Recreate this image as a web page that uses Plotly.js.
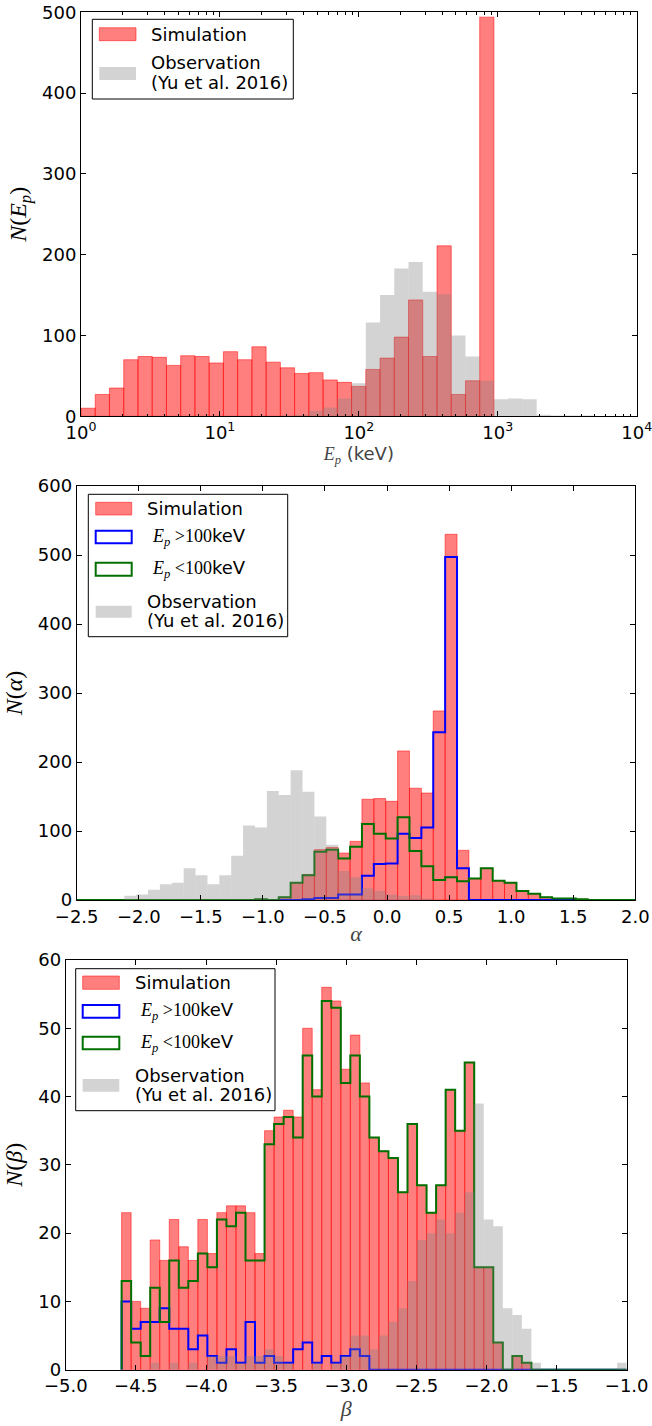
<!DOCTYPE html>
<html><head><meta charset="utf-8">
<script src="https://cdn.plot.ly/plotly-3.0.1.min.js"></script>
<style>html,body{margin:0;padding:0;background:#fff}#chart{width:652px;height:1426px}</style>
</head><body><div id="chart"></div>
<script>
// ---------- Panel 1: N(Ep), log-spaced bins (edge k = 10^(k*epLogWidth) keV) ----------
const epLogWidth = 0.1025;
const epSimulation = [10,27,35,70,74,73,63,75,74,66,80,70,86,67,60,53,54,45,42,37,58,72,98,144,74,211,27,44,494];
const epObservation = [0,0,0,0,0,0,0,0,0,0,0,0,0,0,1,2,7,11,22,41,116,150,183,191,154,151,100,74,44,21,22,21,2,1,1,1];
const epTickVals = [1,10,100,1000,10000];
const epTickText = ['10<sup>0</sup>','10<sup>1</sup>','10<sup>2</sup>','10<sup>3</sup>','10<sup>4</sup>'];

// ---------- Panel 2: N(alpha), 47 bins from -2.5 to 2.0 ----------
const alphaMin = -2.5, alphaMax = 2.0;
const alphaSimulation = [0,0,0,0,0,0,0,0,0,0,0,0,0,0,0,1,0,4,25,37,73,76,68,85,146,147,143,216,162,155,274,530,72,31,46,28,25,13,9,4,2,2,1,0,0,0,0];
const alphaHighEp = [0,0,0,0,0,0,0,0,0,0,0,0,0,0,0,0,0,0,0,1,3,3,8,8,35,52,53,96,90,105,243,497,46,0,0,0,0,0,0,0,0,0,0,0,0,0,0];
const alphaLowEp = [0,0,0,0,0,0,0,0,0,0,0,0,0,0,0,1,0,4,25,36,70,73,60,77,110,96,89,120,71,49,29,33,27,31,46,28,25,13,9,4,2,2,1,0,0,0,0];
const alphaObservation = [0,0,0,0,6,8,15,23,25,46,36,23,36,64,108,105,158,152,188,157,121,80,42,33,17,13,8,6,7,2,0,0,0,0,0,0,0,0,0,0,0,0,0,0,0,0,0];

// ---------- Panel 3: N(beta), 53 bins from -4.602 to -1.0 ----------
const betaMin = -4.602, betaMax = -1.0;
const betaSimulation = [23,10,9,19,16,22,18,16,22,17,23,24,24,23,17,35,37,38,37,50,41,56,54,44,49,42,34,32,31,26,36,27,23,27,41,35,45,15,15,4,0,2,1,0,0,0,0,0,0,0,0,0,0];
const betaHighEp = [10,6,7,7,9,6,6,3,5,2,1,3,1,7,1,2,1,1,3,4,1,2,1,2,3,2,0,0,0,0,0,0,0,0,0,0,0,0,0,0,0,0,0,0,0,0,0,0,0,0,0,0,0];
const betaLowEp = [13,4,2,12,7,16,12,13,17,15,22,21,23,16,16,33,36,37,34,46,40,54,53,42,46,40,34,32,31,26,36,27,23,27,41,35,45,15,15,4,0,2,1,0,0,0,0,0,0,0,0,0,0];
const betaObservation = [0,0,0,1,0,1,0,1,0,2,2,2,1,2,2,3,2,1,0,0,1,0,1,2,5,5,3,5,7,9,13,19,20,22,20,23,26,39,22,21,9,8,6,1,0,0,0,0,0,0,0,0,1];

// ---------- helpers ----------
function linEdges(min, max, n){ const w=(max-min)/n; return Array.from({length:n+1},(_,i)=>min+i*w); }
function logEdges(step, n){ return Array.from({length:n+1},(_,i)=>Math.pow(10,i*step)); }
function bars(edges, counts){
  const x=[],w=[];
  for(let i=0;i<counts.length;i++){ x.push((edges[i]+edges[i+1])/2); w.push(edges[i+1]-edges[i]); }
  return {x, width:w, y:counts};
}
function steps(edges, counts){
  const x=[edges[0]], y=[0];
  for(let i=0;i<counts.length;i++){ x.push(edges[i]); y.push(counts[i]); }
  x.push(edges[counts.length]); y.push(0);
  return {x,y};
}
const W=652, H=1426;
const px = v => v/W, py = v => 1 - v/H;

const RED='rgba(255,0,0,0.5)', GREY='rgba(128,128,128,0.35)', BLUE='#0000ff', GREEN='#007000';
const SANS='DejaVu Sans', SERIF='Liberation Serif';

const epEdges = logEdges(epLogWidth, epObservation.length);
const alphaEdges = linEdges(alphaMin, alphaMax, alphaSimulation.length);
const betaEdges = linEdges(betaMin, betaMax, betaSimulation.length);

function barTrace(d, name, color, line, xa, ya){
  return {type:'bar', x:d.x, y:d.y, width:d.width, name, xaxis:xa, yaxis:ya,
    marker:{color, line: line ? {color:line, width:1} : {width:0}}, showlegend:false, hoverinfo:'skip'};
}
function stepTrace(d, name, color, xa, ya){
  return {type:'scatter', mode:'lines', x:d.x, y:d.y, name, xaxis:xa, yaxis:ya,
    line:{shape:'hv', color, width:2}, showlegend:false, hoverinfo:'skip'};
}

const data = [
  barTrace(bars(epEdges, epSimulation), 'Simulation', RED, RED, 'x', 'y'),
  barTrace(bars(epEdges, epObservation), 'Observation (Yu et al. 2016)', GREY, null, 'x', 'y'),

  barTrace(bars(alphaEdges, alphaSimulation), 'Simulation', RED, RED, 'x2', 'y2'),
  stepTrace(steps(alphaEdges, alphaHighEp), 'Ep >100keV', BLUE, 'x2', 'y2'),
  stepTrace(steps(alphaEdges, alphaLowEp), 'Ep <100keV', GREEN, 'x2', 'y2'),
  barTrace(bars(alphaEdges, alphaObservation), 'Observation (Yu et al. 2016)', GREY, null, 'x4', 'y4'),

  barTrace(bars(betaEdges, betaSimulation), 'Simulation', RED, RED, 'x3', 'y3'),
  stepTrace(steps(betaEdges, betaHighEp), 'Ep >100keV', BLUE, 'x3', 'y3'),
  stepTrace(steps(betaEdges, betaLowEp), 'Ep <100keV', GREEN, 'x3', 'y3'),
  barTrace(bars(betaEdges, betaObservation), 'Observation (Yu et al. 2016)', GREY, null, 'x5', 'y5')
];

const tickFont = {family:SANS, size:18, color:'#000'};
function baseAxis(extra){
  return Object.assign({showline:true, linecolor:'#000', linewidth:1, mirror:'ticks',
    ticks:'inside', ticklen:5, tickwidth:1, tickcolor:'#000', showgrid:false, zeroline:false,
    tickfont:tickFont, automargin:false, fixedrange:true, ticklabeloverflow:'allow'}, extra);
}
const minorLog = [];
for(let d=1; d<=1000; d*=10){ for(let m=2;m<=9;m++) minorLog.push(m*d); }

const epTitle = '<span style="font-family:Liberation Serif"><i>E<sub>p</sub></i></span> (keV)';
const yTitleFont = {family:SERIF, size:24, color:'#000'};

const layout = {
  width:W, height:H, margin:{l:0,r:0,t:0,b:0}, paper_bgcolor:'#fff', plot_bgcolor:'rgba(0,0,0,0)',
  barmode:'overlay', showlegend:false,
  xaxis: baseAxis({domain:[px(81),px(636.7)], anchor:'y', type:'log', range:[0,4],
    tickmode:'array', tickvals:epTickVals, ticktext:epTickText,
    minor:{tickmode:'array', tickvals:minorLog, ticks:'inside', ticklen:2.5, tickcolor:'#000', showgrid:false},
    title:{text:epTitle, font:{family:SANS,size:18}, standoff:0}}),
  yaxis: baseAxis({domain:[py(416.3),py(12.3)], anchor:'x', range:[0,500], dtick:100,
    title:{text:'<i>N</i>(<i>E<sub>p</sub></i>)', font:yTitleFont, standoff:8}}),

  xaxis2: baseAxis({domain:[px(76.7),px(635.3)], anchor:'y2', range:[alphaMin,alphaMax], dtick:0.5, tickformat:'.1f',
    title:{text:'<i>α</i>', font:{family:SERIF,size:22}, standoff:0}}),
  yaxis2: baseAxis({domain:[py(900),py(486)], anchor:'x2', range:[0,600], dtick:100,
    title:{text:'<i>N</i>(<i>α</i>)', font:yTitleFont, standoff:8}}),
  xaxis4: {overlaying:'x2', anchor:'y4', range:[alphaMin,alphaMax], visible:false, fixedrange:true},
  yaxis4: {overlaying:'y2', anchor:'x4', range:[0,600], visible:false, fixedrange:true},

  xaxis3: baseAxis({domain:[px(65.8),px(626.7)], anchor:'y3', range:[-5,-1], dtick:0.5, tickformat:'.1f',
    title:{text:'<i>β</i>', font:{family:SERIF,size:22}, standoff:0}}),
  yaxis3: baseAxis({domain:[py(1369.7),py(960)], anchor:'x3', range:[0,60], dtick:10,
    title:{text:'<i>N</i>(<i>β</i>)', font:yTitleFont, standoff:8}}),
  xaxis5: {overlaying:'x3', anchor:'y5', range:[-5,-1], visible:false, fixedrange:true},
  yaxis5: {overlaying:'y3', anchor:'x5', range:[0,60], visible:false, fixedrange:true},
  shapes:[], annotations:[]
};

// ---------- manual legends (matplotlib style) ----------
function rect(x0,y0,x1,y1,fill,line,lw){
  layout.shapes.push({type:'rect', xref:'paper', yref:'paper', x0:px(x0), x1:px(x1), y0:py(y1), y1:py(y0),
    fillcolor:fill, line:{color:line||'rgba(0,0,0,0)', width:line?lw:0}, layer:'above'});
}
function label(x,y,text){
  layout.annotations.push({xref:'paper', yref:'paper', x:px(x), y:py(y), xanchor:'left', yanchor:'middle',
    text, showarrow:false, font:{family:SANS,size:18,color:'#000'}});
}
const hiText = '<span style="font-family:Liberation Serif"><i>E<sub>p</sub></i> &gt;100</span>keV';
const loText = '<span style="font-family:Liberation Serif"><i>E<sub>p</sub></i> &lt;100</span>keV';

// panel 1
rect(92.3,19.3,293.3,99,'#fff','#000',1);
rect(99.3,27.7,136,40.7,RED,RED,1); label(149,34,'Simulation');
rect(99.3,67,136,80,GREY,null,0); label(149,62.5,'Observation'); label(149,82,'(Yu et al. 2016)');
// panel 2
rect(88.3,494.3,287.7,636.7,'#fff','#000',1);
rect(95.7,502.3,131.7,515,RED,RED,1); label(144.5,508.7,'Simulation');
rect(95.7,530.7,131.7,543.3,'rgba(0,0,0,0)',BLUE,2); label(150,537,hiText);
rect(95.7,562.7,131.7,575.7,'rgba(0,0,0,0)',GREEN,2); label(150,569,loText);
rect(95.7,605.7,131.7,617.7,GREY,null,0); label(144.5,601,'Observation'); label(144.5,620.5,'(Yu et al. 2016)');
// panel 3
rect(75.7,968.7,275,1110.7,'#fff','#000',1);
rect(82.7,976,119.3,989.3,RED,RED,1); label(132.5,982.7,'Simulation');
rect(82.7,1005,119.3,1017.7,'rgba(0,0,0,0)',BLUE,2); label(138,1011.3,hiText);
rect(82.7,1036.7,119.3,1049.3,'rgba(0,0,0,0)',GREEN,2); label(138,1043,loText);
rect(82.7,1079,119.3,1091.7,GREY,null,0); label(132.5,1075,'Observation'); label(132.5,1094.5,'(Yu et al. 2016)');

Plotly.newPlot('chart', data, layout, {displayModeBar:false, staticPlot:true});
</script></body></html>
